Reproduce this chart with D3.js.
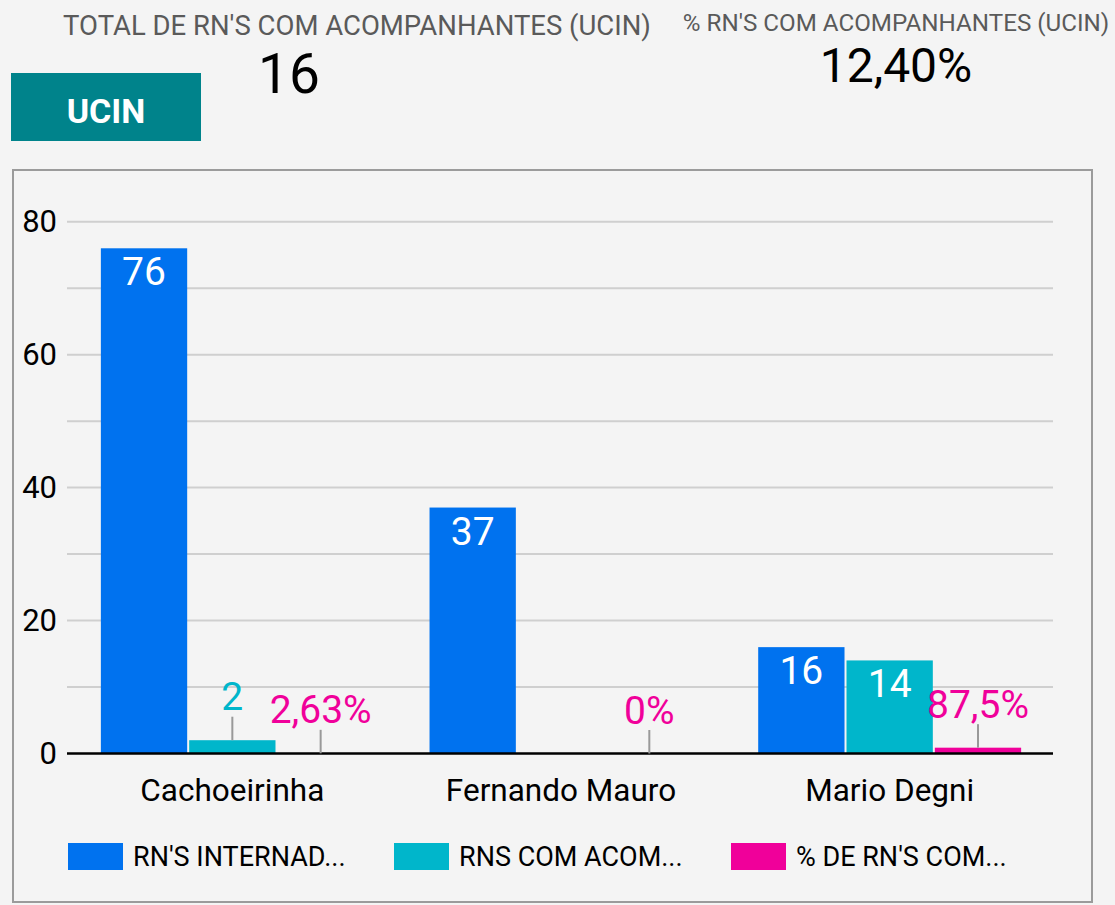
<!DOCTYPE html>
<html>
<head>
<meta charset="utf-8">
<script src="https://cdn.jsdelivr.net/npm/d3@7"></script>
<style>
  html, body { margin: 0; padding: 0; background: #f4f4f4; }
  svg { display: block; font-family: Roboto, "Noto Sans", sans-serif; }
</style>
</head>
<body>
<svg id="chart" width="1115" height="905"></svg>
<script>
const categories = ["Cachoeirinha", "Fernando Mauro", "Mario Degni"];
const seriesNames = ["RN'S INTERNAD...", "RNS COM ACOM...", "% DE RN'S COM..."];
const internados = [76, 37, 16];
const comAcompanhantes = [2, 0, 14];
const pctAcompanhantes = [0.0263, 0, 0.875];
const pctLabels = ["2,63%", "0%", "87,5%"];
const yTicks = [0, 20, 40, 60, 80];
const gridTicks = [0, 10, 20, 30, 40, 50, 60, 70, 80];
const scorecards = [
  { title: "TOTAL DE RN'S COM ACOMPANHANTES (UCIN)", value: "16" },
  { title: "% RN'S COM ACOMPANHANTES (UCIN)", value: "12,40%" }
];
const sectionLabel = "UCIN";
const colors = ["#0072ef", "#00b6cb", "#f0009a"];

const svg = d3.select("#chart");
svg.append("rect").attr("width", 1115).attr("height", 905).attr("fill", "#f4f4f4");

// Scorecards
svg.append("text").attr("x", 357).attr("y", 35).attr("text-anchor", "middle")
  .attr("font-size", 27.5).attr("fill", "#5a5a5a").text(scorecards[0].title);
svg.append("text").attr("x", 289).attr("y", 93).attr("text-anchor", "middle")
  .attr("font-size", 55).attr("fill", "#000").text(scorecards[0].value);
svg.append("text").attr("x", 896).attr("y", 31).attr("text-anchor", "middle")
  .attr("font-size", 24.2).attr("fill", "#5a5a5a").text(scorecards[1].title);
svg.append("text").attr("x", 896).attr("y", 82).attr("text-anchor", "middle")
  .attr("font-size", 48).attr("fill", "#000").text(scorecards[1].value);

// Section box
svg.append("rect").attr("x", 11).attr("y", 73).attr("width", 190).attr("height", 68).attr("fill", "#00838b");
svg.append("text").attr("x", 106).attr("y", 123).attr("text-anchor", "middle")
  .attr("font-size", 34).attr("font-weight", "bold").attr("fill", "#fff").text(sectionLabel);

// Chart frame
svg.append("rect").attr("x", 13).attr("y", 170).attr("width", 1079).attr("height", 732)
  .attr("fill", "#f4f4f4").attr("stroke", "#9b9b9b").attr("stroke-width", 2);

const plotLeft = 67, plotRight = 1053, plotTop = 221.7, plotBottom = 753.5;
const y = d3.scaleLinear().domain([0, 80]).range([plotBottom, plotTop]);
const x0 = d3.scaleBand().domain(categories).range([plotLeft + 1, plotRight + 1]).paddingInner(0.2).paddingOuter(0.1);
const x1 = d3.scaleBand().domain(d3.range(3)).range([0, x0.bandwidth() + 2]);
const barW = x1.bandwidth() - 2;

// Gridlines
svg.append("g").selectAll("line").data(gridTicks.filter(d => d > 0)).join("line")
  .attr("x1", plotLeft).attr("x2", plotRight).attr("y1", d => y(d)).attr("y2", d => y(d))
  .attr("stroke", "#cfcfcf").attr("stroke-width", 2);

// Y axis labels
const yAxis = d3.axisLeft(y).tickValues(yTicks).tickSize(0).tickPadding(10);
const yg = svg.append("g").attr("transform", `translate(${plotLeft},0)`).call(yAxis);
yg.select(".domain").remove();
yg.selectAll("text").attr("font-size", 31).attr("fill", "#000").attr("font-family", "Roboto");

const seriesData = [internados, comAcompanhantes, pctAcompanhantes];
const bars = [];
categories.forEach((c, ci) => {
  seriesData.forEach((s, si) => {
    bars.push({ c, ci, si, v: s[ci] });
  });
});

svg.append("g").selectAll("rect").data(bars.filter(d => d.v > 0)).join("rect")
  .attr("x", d => x0(d.c) + x1(d.si))
  .attr("y", d => y(d.v))
  .attr("width", barW)
  .attr("height", d => y(0) - y(d.v))
  .attr("fill", d => colors[d.si]);

// X axis
const xAxis = d3.axisBottom(x0).tickSize(0).tickPadding(25);
const xg = svg.append("g").attr("transform", `translate(0,${plotBottom})`).call(xAxis);
xg.select(".domain").remove();
xg.selectAll("text").attr("font-size", 31.5).attr("fill", "#000").attr("font-family", "Roboto");
svg.append("line").attr("x1", plotLeft).attr("x2", plotRight).attr("y1", plotBottom).attr("y2", plotBottom)
  .attr("stroke", "#000").attr("stroke-width", 2.5);

// Data labels
const lab = svg.append("g");
bars.forEach(d => {
  const cx = x0(d.c) + x1(d.si) + barW / 2;
  const barTop = y(d.v);
  const h = y(0) - barTop;
  const text = d.si === 2 ? pctLabels[d.ci] : String(d.v);
  if (d.si !== 2 && d.v === 0) return;
  if (d.si !== 2 && h > 45) {
    lab.append("text").attr("x", cx).attr("y", barTop + 37).attr("text-anchor", "middle")
      .attr("font-size", 39).attr("fill", "#fff").text(text);
  } else {
    lab.append("line").attr("x1", cx).attr("x2", cx).attr("y1", barTop).attr("y2", barTop - 23.5)
      .attr("stroke", "#999").attr("stroke-width", 2);
    lab.append("text").attr("x", cx).attr("y", barTop - 30).attr("text-anchor", "middle")
      .attr("font-size", 39).attr("fill", colors[d.si]).text(text);
  }
});

// Legend
const legendX = [68, 394, 731];
const lg = svg.append("g");
seriesNames.forEach((n, i) => {
  lg.append("rect").attr("x", legendX[i]).attr("y", 843).attr("width", 55).attr("height", 27).attr("fill", colors[i]);
  lg.append("text").attr("x", legendX[i] + 65).attr("y", 866).attr("font-size", 27).attr("fill", "#000").text(n);
});
</script>
</body>
</html>
